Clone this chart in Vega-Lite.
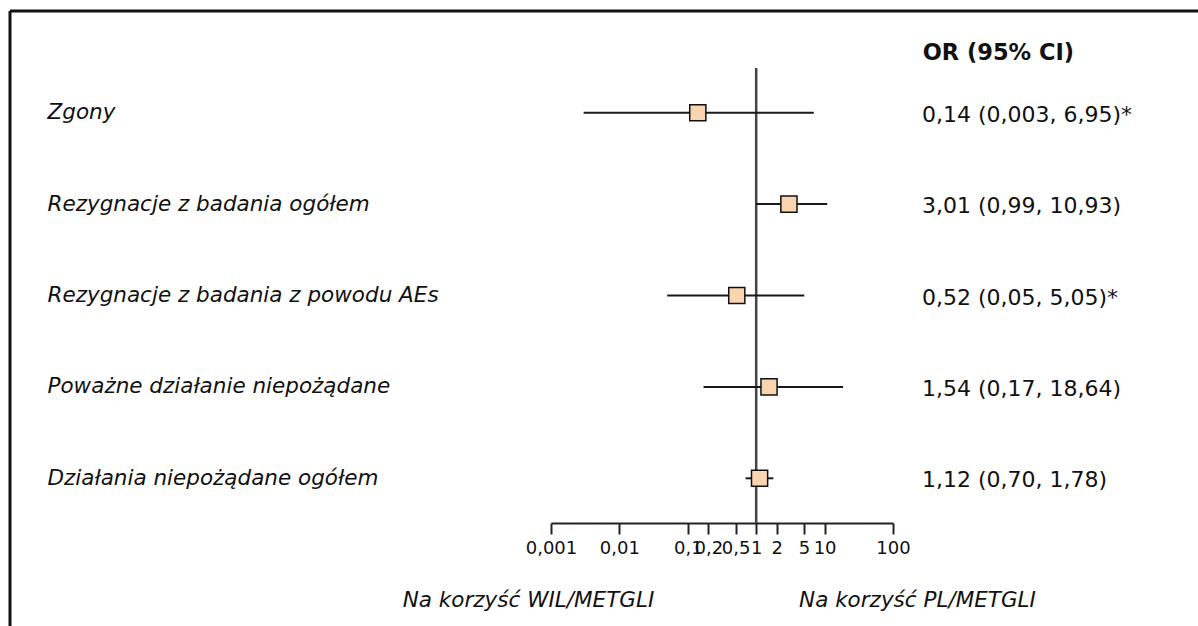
{
  "$schema": "https://vega.github.io/schema/vega-lite/v6.json",
  "width": 342,
  "height": 455,
  "autosize": {"type": "none"},
  "padding": {"left": 551, "top": 68, "right": 305, "bottom": 103},
  "background": "white",
  "config": {"view": {"stroke": null}, "font": "DejaVu Sans"},
  "datasets": {
    "rows": [
      {"outcome": "Zgony", "or": 0.14, "lo": 0.003, "hi": 6.95, "label": "0,14 (0,003, 6,95)*"},
      {"outcome": "Rezygnacje z badania ogółem", "or": 3.01, "lo": 0.99, "hi": 10.93, "label": "3,01 (0,99, 10,93)"},
      {"outcome": "Rezygnacje z badania z powodu AEs", "or": 0.52, "lo": 0.05, "hi": 5.05, "label": "0,52 (0,05, 5,05)*"},
      {"outcome": "Poważne działanie niepożądane", "or": 1.54, "lo": 0.17, "hi": 18.64, "label": "1,54 (0,17, 18,64)"},
      {"outcome": "Działania niepożądane ogółem", "or": 1.12, "lo": 0.70, "hi": 1.78, "label": "1,12 (0,70, 1,78)"}
    ]
  },
  "resolve": {"scale": {"y": "independent"}},
  "layer": [
    {
      "data": {"values": [{}]},
      "layer": [
        {
          "mark": {"type": "rule", "color": "#111", "strokeWidth": 3},
          "encoding": {
            "x": {"datum": 1.232e-11, "type": "quantitative", "scale": {"type": "log", "domain": [0.001, 100], "nice": false}, "title": null},
            "x2": {"datum": 100000000},
            "y": {"datum": -0.1127, "type": "quantitative", "scale": {"type": "linear", "domain": [0.5109, 5.4891], "reverse": true, "nice": false, "zero": false}, "axis": null}
          }
        },
        {
          "mark": {"type": "rule", "color": "#111", "strokeWidth": 3},
          "encoding": {
            "x": {"datum": 1.232e-11, "type": "quantitative", "scale": {"type": "log", "domain": [0.001, 100], "nice": false}, "title": null},
            "y": {"datum": -0.1127, "type": "quantitative", "scale": {"type": "linear", "domain": [0.5109, 5.4891], "reverse": true, "nice": false, "zero": false}, "axis": null},
            "y2": {"datum": 8}
          }
        },
        {
          "mark": {"type": "rule", "color": "#444", "strokeWidth": 2.5},
          "encoding": {
            "x": {"datum": 1, "type": "quantitative", "scale": {"type": "log", "domain": [0.001, 100], "nice": false}, "title": null}
          }
        },
        {
          "mark": {"type": "text", "align": "left", "baseline": "alphabetic", "font": "DejaVu Sans", "fontWeight": "bold", "fontSize": 22.5, "color": "#111"},
          "encoding": {
            "x": {"datum": 272, "type": "quantitative", "scale": {"type": "log", "domain": [0.001, 100], "nice": false}, "title": null},
            "y": {"datum": 0.4234, "type": "quantitative", "scale": {"type": "linear", "domain": [0.5109, 5.4891], "reverse": true, "nice": false, "zero": false}, "axis": null},
            "text": {"value": "OR (95% CI)"}
          }
        },
        {
          "mark": {"type": "text", "align": "center", "baseline": "alphabetic", "font": "DejaVu Sans", "fontStyle": "italic", "fontSize": 21.5, "color": "#111"},
          "encoding": {
            "x": {"datum": 0.000469, "type": "quantitative", "scale": {"type": "log", "domain": [0.001, 100], "nice": false}, "title": null},
            "y": {"datum": 6.408, "type": "quantitative", "scale": {"type": "linear", "domain": [0.5109, 5.4891], "reverse": true, "nice": false, "zero": false}, "axis": null},
            "text": {"value": "Na korzyść WIL/METGLI"}
          }
        },
        {
          "mark": {"type": "text", "align": "center", "baseline": "alphabetic", "font": "DejaVu Sans", "fontStyle": "italic", "fontSize": 21.5, "color": "#111"},
          "encoding": {
            "x": {"datum": 228, "type": "quantitative", "scale": {"type": "log", "domain": [0.001, 100], "nice": false}, "title": null},
            "y": {"datum": 6.408, "type": "quantitative", "scale": {"type": "linear", "domain": [0.5109, 5.4891], "reverse": true, "nice": false, "zero": false}, "axis": null},
            "text": {"value": "Na korzyść PL/METGLI"}
          }
        }
      ]
    },
    {
      "data": {"name": "rows"},
      "encoding": {
        "y": {
          "field": "outcome", "type": "nominal", "sort": null,
          "scale": {"type": "point", "padding": 0.489},
          "axis": {"title": null, "domain": false, "ticks": false, "tickSize": 0, "grid": false, "labelAlign": "left", "labelPadding": 504, "labelLimit": 600, "labelFont": "DejaVu Sans", "labelFontSize": 21.5, "labelFontStyle": "italic", "labelColor": "#111"}
        }
      },
      "layer": [
        {
          "mark": {"type": "rule", "color": "#1a1a1a", "strokeWidth": 2},
          "encoding": {
            "x": {
              "field": "lo", "type": "quantitative", "title": null,
              "scale": {"type": "log", "domain": [0.001, 100], "nice": false},
              "axis": {"values": [0.001, 0.01, 0.1, 0.2, 0.5, 1, 2, 5, 10, 100], "labelExpr": "replace(toString(datum.value), '.', ',')", "labelOverlap": false, "labelFlush": false, "labelBound": false, "grid": false, "domainColor": "#222", "domainWidth": 2, "tickColor": "#222", "tickWidth": 2, "tickSize": 11, "labelFont": "DejaVu Sans", "labelFontSize": 18, "labelColor": "#111", "labelPadding": 5}
            },
            "x2": {"field": "hi"}
          }
        },
        {
          "mark": {"type": "point", "shape": "square", "size": 260, "filled": true, "fill": "#fad3af", "stroke": "#111", "strokeWidth": 1.5, "opacity": 1},
          "encoding": {
            "x": {"field": "or", "type": "quantitative", "title": null, "scale": {"type": "log", "domain": [0.001, 100], "nice": false}}
          }
        },
        {
          "mark": {"type": "text", "align": "left", "baseline": "middle", "font": "DejaVu Sans", "fontSize": 22, "color": "#111", "dy": 2},
          "encoding": {
            "x": {"datum": 265, "type": "quantitative", "title": null, "scale": {"type": "log", "domain": [0.001, 100], "nice": false}},
            "text": {"field": "label"}
          }
        }
      ]
    }
  ]
}
